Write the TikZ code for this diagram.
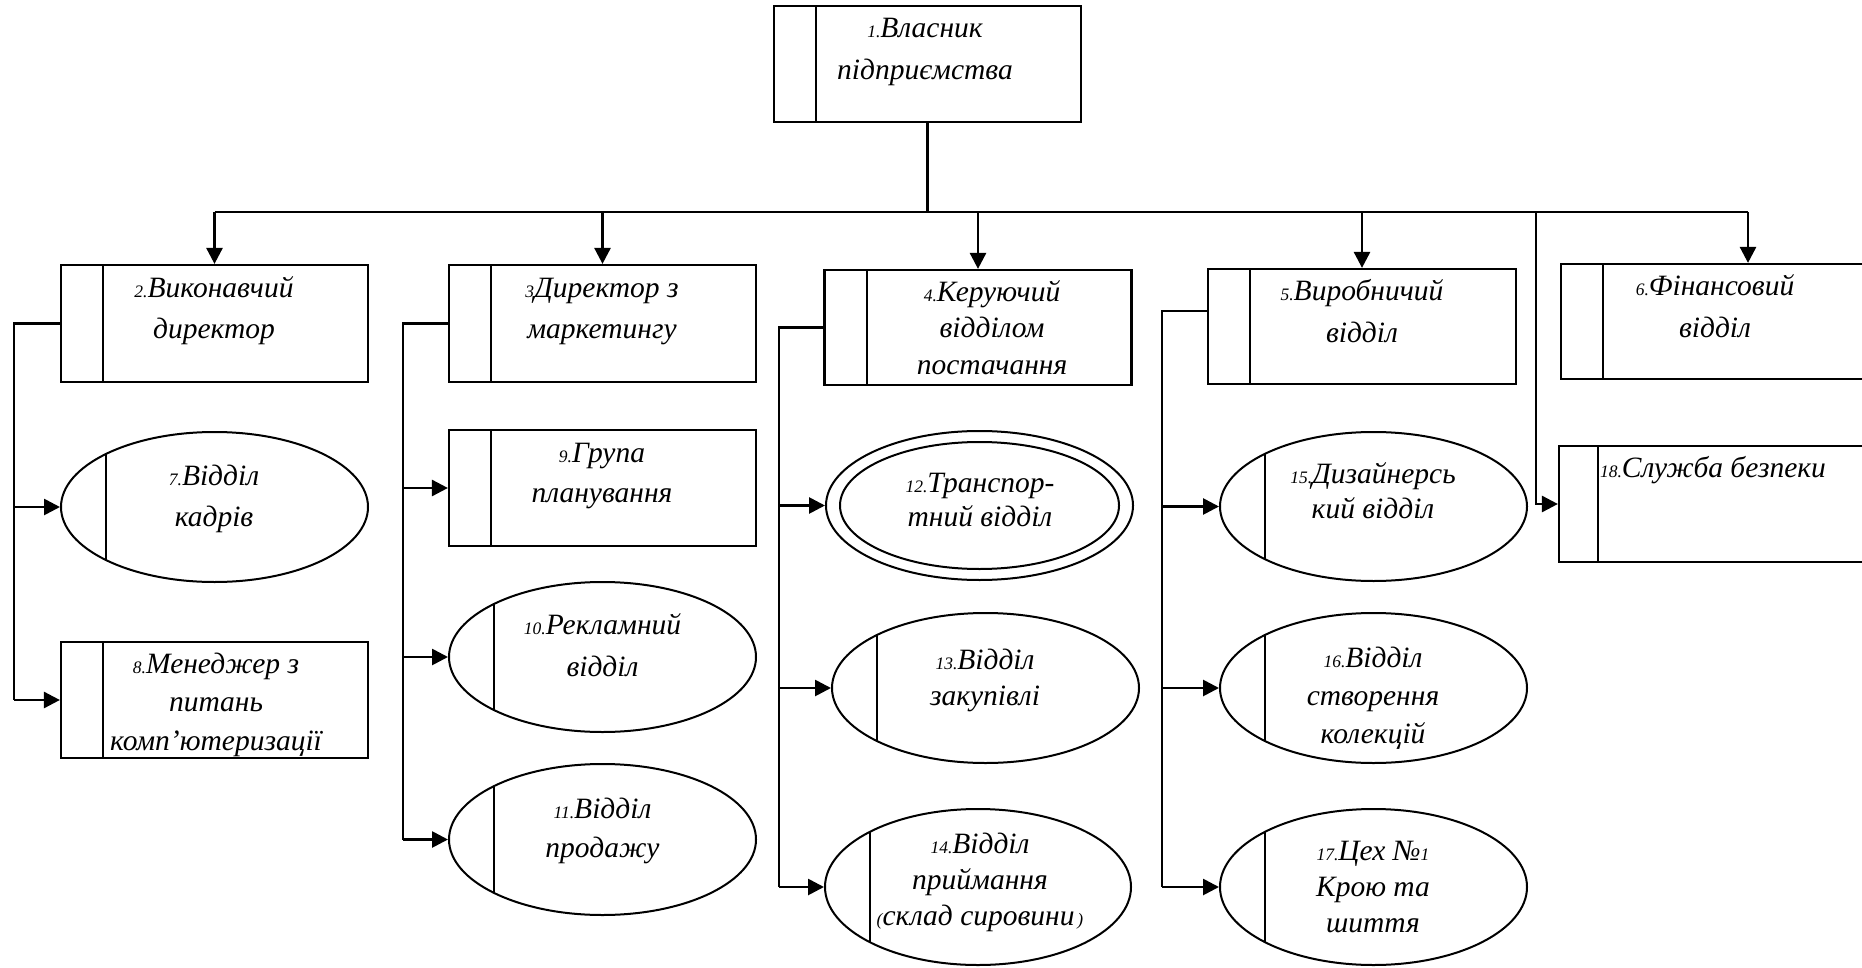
\documentclass[tikz,border=0pt]{standalone}
\usepackage{fontspec}
\setmainfont{Liberation Serif}
\usetikzlibrary{arrows.meta,shapes.geometric}

% small numeral prefix in front of a unit name
\newcommand\numsm[1]{{\fontsize{17.5}{17.5}\selectfont #1}}

\begin{document}
\begin{tikzpicture}[x=1pt,y=-1pt,
  bar/.style={path picture={\draw[line width=2pt]
      ([xshift=#1]path picture bounding box.north west) --
      ([xshift=#1]path picture bounding box.south west);}},
  unit/.style={draw, line width=2.2pt, rectangle, inner sep=0pt,
      minimum width=307pt, minimum height=116pt, bar=42pt},
  dept/.style={draw, line width=2pt, ellipse, inner sep=0pt,
      minimum width=307pt, minimum height=150pt, bar=45pt},
  ring/.style={draw, line width=2pt, ellipse, inner sep=0pt},
  lbl/.style={inner sep=0pt, align=center,
      font=\fontsize{29.5}{#1}\selectfont\itshape},
  conn/.style={line width=2.7pt},
  arr/.style={conn, -{Triangle[length=16pt,width=16pt]}}
]
\useasboundingbox (0,0) rectangle (1862,968);
\clip (0,0) rectangle (1862,968);
\fill[white] (0,0) rectangle (1862,968);

% ---- top level
\node[unit, minimum width=307pt, minimum height=116pt] (b1) at (927.5,64) {};

% ---- second level
\node[unit, minimum height=117pt] (b2) at (214.5,323.5) {};
\node[unit, minimum height=117pt] (b3) at (602.5,323.5) {};
\node[unit, minimum height=115pt] (b4) at (978,327.5) {};
\node[unit, minimum width=308pt, minimum height=115pt] (b5) at (1362,326.5) {};
\node[unit, minimum width=374pt, minimum height=115pt] (b6) at (1748,321.5) {};

% ---- third level
\node[dept] (e7) at (214.5,507) {};
\node[unit] (b8) at (214.5,700) {};

\node[unit] (b9) at (602.5,488) {};
\node[dept] (e10) at (602.5,657) {};
\node[dept, minimum height=151pt] (e11) at (602.5,839.5) {};

\node[ring, minimum width=307pt, minimum height=149pt] (e12) at (979.5,505.5) {};
\node[ring, minimum width=279pt, minimum height=127pt] (e12i) at (e12) {};
\node[dept] (e13) at (985.5,688) {};
\node[dept, minimum width=306pt, minimum height=156pt] (e14) at (978,887) {};

\node[dept, minimum height=149pt] (e15) at (1373.5,506.5) {};
\node[dept] (e16) at (1373.5,688) {};
\node[dept, minimum height=156pt] (e17) at (1373.5,887) {};

\node[unit, minimum width=378pt, bar=39pt] (b18) at (1748,504) {};

% ---- labels
\node[lbl=42] (t1) at (925,50.6) {\strut\numsm{1.}Власник\\\strut підприємства};
\node[lbl=40] (t2) at (214,310) {\strut\numsm{2.}Виконавчий\\\strut директор};
\node[lbl=41] (t3) at (602,309.3) {\strut\numsm{3}Директор з\\\strut маркетингу};
\node[lbl=36.5] (t4) at (992,330.2) {\strut\numsm{4.}Керуючий\\\strut відділом\\\strut постачання};
\node[lbl=42] (t5) at (1362,312.6) {\strut\numsm{5.}Виробничий\\\strut відділ};
\node[lbl=42] (t6) at (1715,307.6) {\strut\numsm{6.}Фінансовий\\\strut відділ};
\node[lbl=41] (t7) at (214,497.3) {\strut\numsm{7.}Відділ\\\strut кадрів};
\node[lbl=38.5] (t8) at (216,703.8) {\strut\numsm{8.}Менеджер з\\\strut питань\\\strut комп’ютеризації};
\node[lbl=40] (t9) at (602,474) {\strut\numsm{9.}Група\\\strut планування};
\node[lbl=42] (t10) at (602.5,646.6) {\strut\numsm{10.}Рекламний\\\strut відділ};
\node[lbl=39] (t11) at (602.5,829.7) {\strut\numsm{11.}Відділ\\\strut продажу};
\node[lbl=34] (t12) at (980,503) {\strut\numsm{12.}Транспор-\\\strut тний відділ};
\node[lbl=36] (t13) at (985,680) {\strut\numsm{13.}Відділ\\\strut закупівлі};
\node[lbl=36] (t14) at (980,882.5) {\strut\numsm{14.}Відділ\\\strut приймання\\\strut\numsm{(}склад сировини\numsm{\,)}};
\node[lbl=35] (t15) at (1373,493.5) {\strut\numsm{15.}Дизайнерсь\\\strut кий відділ};
\node[lbl=38] (t16) at (1373,697.4) {\strut\numsm{16.}Відділ\\\strut створення\\\strut колекцій};
\node[lbl=36] (t17) at (1373,889.5) {\strut\numsm{17.}Цех №\numsm{1}\\\strut Крою та\\\strut шиття};
\node[lbl=40] (t18) at (1713,469) {\strut\numsm{18.}Служба безпеки};

% ---- main bus from the owner
\coordinate (busL) at (214.5,212);
\coordinate (busR) at (1748,212);
\draw[conn] (b1.south) -- (b1.south |- busL);
\draw[conn] (busL) -- (busR);
\draw[arr] (busL) -- (b2.north);
\draw[arr] (busL -| b3.north) -- (b3.north);
\draw[arr] (busL -| b4.north) -- (b4.north);
\draw[arr] (busL -| b5.north) -- (b5.north);
\draw[arr] (busR) -- (b6.north);

% ---- executive director branch
\coordinate (s2) at (14,0);
\draw[conn] (b2.west) -- (s2 |- b2.west) -- (s2 |- b8.west);
\draw[arr] (s2 |- e7.west) -- (e7.west);
\draw[arr] (s2 |- b8.west) -- (b8.west);

% ---- marketing branch
\coordinate (s3) at (403,0);
\draw[conn] (b3.west) -- (s3 |- b3.west) -- (s3 |- e11.west);
\draw[arr] (s3 |- b9.west) -- (b9.west);
\draw[arr] (s3 |- e10.west) -- (e10.west);
\draw[arr] (s3 |- e11.west) -- (e11.west);

% ---- supply branch
\coordinate (s4) at (779,0);
\draw[conn] (b4.west) -- (s4 |- b4.west) -- (s4 |- e14.west);
\draw[arr] (s4 |- e12.west) -- (e12.west);
\draw[arr] (s4 |- e13.west) -- (e13.west);
\draw[arr] (s4 |- e14.west) -- (e14.west);

% ---- production branch
\coordinate (s5) at (1162,311);
\draw[conn] (s5 -| b5.west) -- (s5) -- (s5 |- e17.west);
\draw[arr] (s5 |- e15.west) -- (e15.west);
\draw[arr] (s5 |- e16.west) -- (e16.west);
\draw[arr] (s5 |- e17.west) -- (e17.west);

% ---- security service
\coordinate (s6) at (1536,212);
\draw[arr] (s6) |- (b18.west);
\end{tikzpicture}
\end{document}
